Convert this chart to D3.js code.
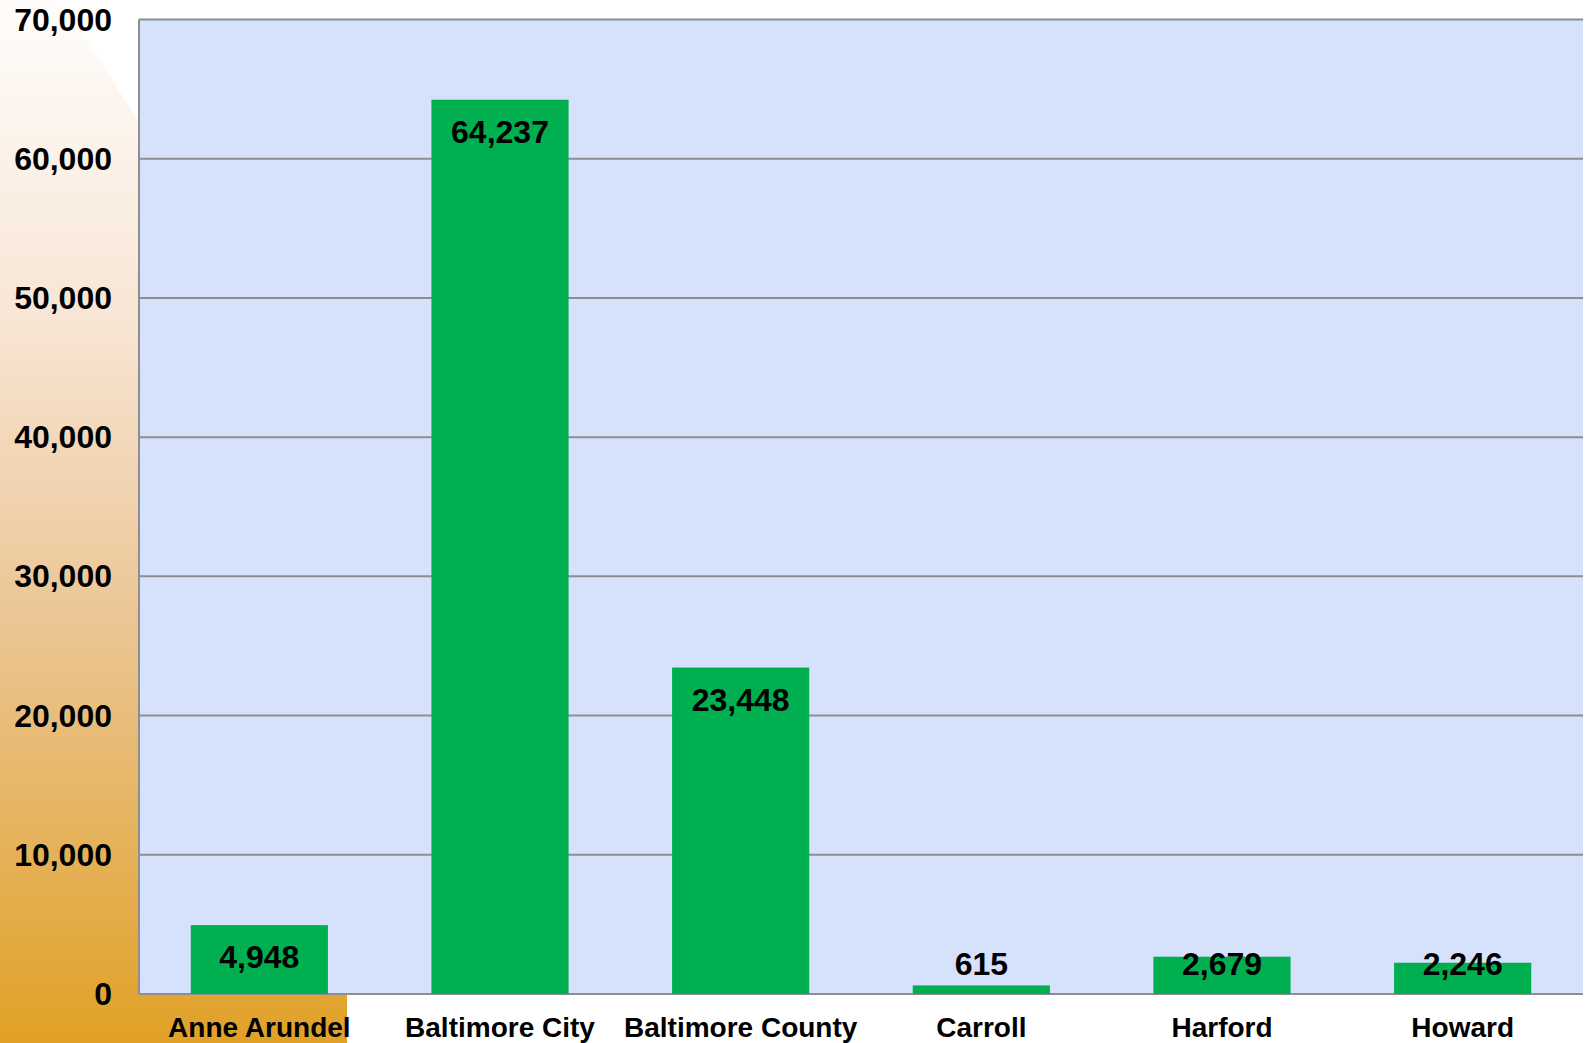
<!DOCTYPE html>
<html><head><meta charset="utf-8">
<script src="https://cdn.jsdelivr.net/npm/d3@7"></script>
<style>html,body{margin:0;padding:0;background:#fff;}svg{display:block;}</style>
</head><body>
<script>
const categories = ["Anne Arundel","Baltimore City","Baltimore County","Carroll","Harford","Howard"];
const values = [4948, 64237, 23448, 615, 2679, 2246];
const yTicks = [0,10000,20000,30000,40000,50000,60000,70000];

(function(){
const W = 1587, H = 1043;
const pLeft = 139, pRight = 1583, pTop = 19.5, pBottom = 994;

const svg = d3.select("body").append("svg").attr("width", W).attr("height", H);
const defs = svg.append("defs");
const grad = defs.append("linearGradient").attr("id","bg").attr("x1",0).attr("y1",0).attr("x2",0).attr("y2",1);
[[0,"#FFFDFB"],[0.3,"#F8E6D6"],[0.6,"#EBC593"],[1,"#E1A126"]].forEach(([o,c])=>grad.append("stop").attr("offset",o).attr("stop-color",c));

svg.append("path").attr("d", d3.line()([[0,0],[60,0],[347,441],[347,H],[0,H]])+"Z").attr("fill","url(#bg)");

const x = d3.scaleBand().domain(categories).range([pLeft,pRight]).paddingInner(0.43).paddingOuter(0.215);
const y = d3.scaleLinear().domain([0,70000]).range([pBottom, pTop]);

svg.append("rect").attr("x",pLeft).attr("y",pTop).attr("width",pRight-pLeft).attr("height",pBottom-pTop).attr("fill","#D6E2FC");

svg.append("g").selectAll("line").data(yTicks).join("line")
  .attr("x1",pLeft).attr("x2",pRight).attr("y1",d=>y(d)).attr("y2",d=>y(d))
  .attr("stroke","#8E8E8E").attr("stroke-width",2);
svg.append("line").attr("x1",pLeft).attr("x2",pLeft).attr("y1",pTop).attr("y2",pBottom).attr("stroke","#8E8E8E").attr("stroke-width",2);

svg.append("g").selectAll("rect").data(values).join("rect")
  .attr("x",(d,i)=>x(categories[i])).attr("width",x.bandwidth())
  .attr("y",d=>y(d)).attr("height",d=>pBottom-y(d)).attr("fill","#00B050");

const font = "'Liberation Sans', Arial, sans-serif";
const fmt = d3.format(",");

svg.append("g").selectAll("text").data(yTicks).join("text")
  .attr("x",112).attr("y",d=>y(d)+11).attr("text-anchor","end")
  .attr("font-family",font).attr("font-weight","bold").attr("font-size",32).attr("fill","#000")
  .text(d=>fmt(d));

svg.append("g").selectAll("text").data(values).join("text")
  .attr("x",(d,i)=>x(categories[i])+x.bandwidth()/2)
  .attr("y",d=>Math.min(y(d)+43, pBottom-19)).attr("text-anchor","middle")
  .attr("font-family",font).attr("font-weight","bold").attr("font-size",32).attr("fill","#000")
  .text(d=>fmt(d));

svg.append("g").selectAll("text").data(categories).join("text")
  .attr("x",d=>x(d)+x.bandwidth()/2).attr("y",1037).attr("text-anchor","middle")
  .attr("font-family",font).attr("font-weight","bold").attr("font-size",28).attr("fill","#000")
  .text(d=>d);
})();
</script>
</body></html>
